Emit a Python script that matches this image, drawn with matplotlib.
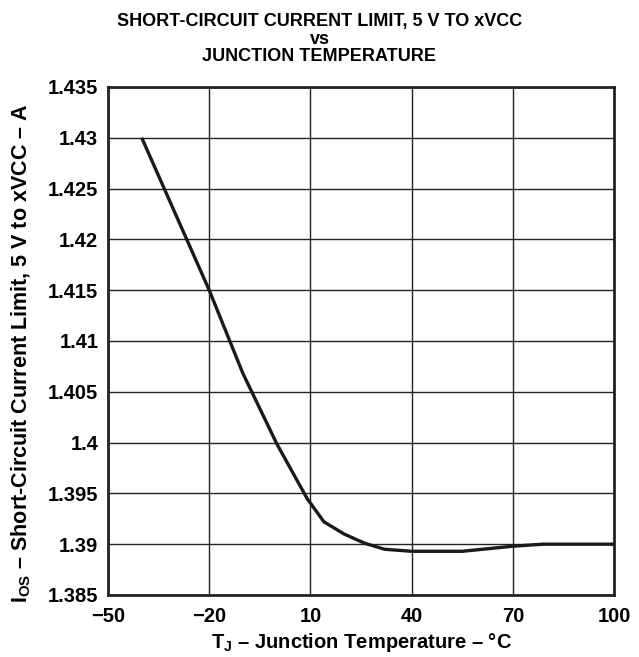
import numpy as np
import matplotlib
matplotlib.use("Agg")
import matplotlib.pyplot as plt

plt.rcParams['font.family'] = ['Liberation Sans', 'DejaVu Sans']
plt.rcParams['font.weight'] = 'bold'
plt.rcParams['axes.labelweight'] = 'bold'
plt.rcParams['mathtext.fontset'] = 'custom'
plt.rcParams['mathtext.bf'] = 'Liberation Sans:bold'
plt.rcParams['mathtext.rm'] = 'Liberation Sans:bold'
plt.rcParams['mathtext.default'] = 'bf'

# data
temp = [-40, -30, -20, -10, 0, 9, 14, 20, 26, 32, 40, 55, 70, 79, 100]
current = [1.430, 1.4225, 1.415, 1.4068, 1.3999, 1.3945, 1.3922, 1.3910,
           1.3901, 1.3895, 1.3893, 1.3893, 1.3898, 1.3900, 1.3900]

x_ticks = [-50, -20, 10, 40, 70, 100]
y_ticks = [1.385, 1.39, 1.395, 1.4, 1.405, 1.41, 1.415, 1.42, 1.425, 1.43, 1.435]

fig = plt.figure(figsize=(6.39, 6.57), dpi=100)
ax = fig.add_axes([0.169, 0.0944, 0.792, 0.7732])

ax.plot(temp, current, color="#1a1a1a", lw=2.4, solid_capstyle="butt", zorder=3)

ax.set_xlim(-50, 100)
ax.set_ylim(1.385, 1.435)
ax.set_xticks(x_ticks)
ax.set_yticks(y_ticks)
ax.set_yticklabels([f"{v:g}" for v in y_ticks])
ax.grid(True, color="#222222", lw=1.0)
ax.tick_params(length=0, labelsize=14.5)
ax.tick_params(axis="x", pad=9)
ax.tick_params(axis="y", pad=7)
for s in ax.spines.values():
    s.set_linewidth(2.0)
    s.set_color("#222222")

ax.set_xlabel(r"T$_{J}$ – Junction Temperature – °C", fontsize=14.5, fontweight="bold", labelpad=3)
ax.set_ylabel(r"I$_{OS}$ – Short-Circuit Current Limit, 5 V to xVCC – A", fontsize=15.5,
              fontweight="bold")
ax.yaxis.set_label_coords(-0.148, 0.476)

fig.text(0.5, 1 - 21.5 / 657, "SHORT-CIRCUIT CURRENT LIMIT, 5 V TO xVCC", ha="center", va="center",
         fontsize=13, fontweight="bold")
fig.text(0.5, 1 - 40 / 657, "vs", ha="center", va="center", fontsize=13, fontweight="bold")
fig.text(0.5, 1 - 56.5 / 657, "JUNCTION TEMPERATURE", ha="center", va="center", fontsize=13,
         fontweight="bold")

fig.savefig("out.png", dpi=100)
